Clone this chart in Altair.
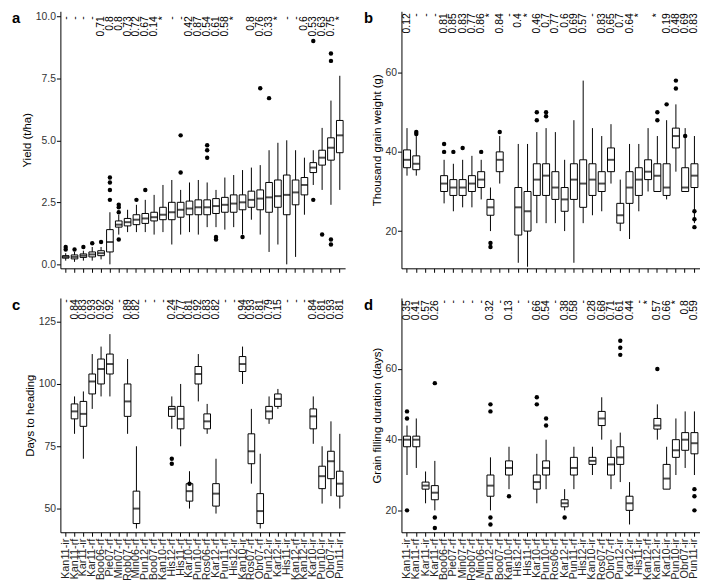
import altair as alt
import pandas as pd

ENVS = ["Kan11-ir","Kan11-rf","Kar11-ir","Kar11-rf","Boo06-rf","Pie07-rf","Min07-rf","Rob07-rf",
        "Min06-rf","Pun12-rf","Boo07-rf","Kan10-rf","His12-rf","His11-rf","Kar10-rf","Pun10-rf",
        "Ros06-rf","Kar12-rf","Pun11-rf","His12-ir","Kan10-ir","Ros07-rf","Obr07-rf","Pun12-ir",
        "Kar12-ir","His11-ir","Kan12-rf","Kan12-ir","Kar10-ir","Pun10-ir","Obr07-ir","Pun11-ir"]

# ---- panel a: yield (t/ha) ----
A_LO  = [0.15,0.1,0.15,0.15,0.2,0.0,1.2,1.3,1.3,1.3,1.2,1.3,0.8,1.2,1.3,1.2,1.5,1.5,1.4,1.5,1.2,1.8,1.2,0.5,0.8,0.0,0.3,2.0,3.2,3.0,2.4,3.0]
A_Q1  = [0.25,0.22,0.28,0.3,0.35,0.5,1.5,1.55,1.6,1.65,1.75,1.8,1.8,1.9,2.0,2.0,2.0,2.05,2.1,2.1,2.2,2.3,2.2,2.1,2.3,2.0,2.4,2.8,3.7,4.0,4.2,4.5]
A_MED = [0.3,0.3,0.35,0.4,0.45,0.9,1.6,1.7,1.8,1.85,1.9,2.0,2.1,2.2,2.25,2.3,2.3,2.35,2.4,2.45,2.5,2.6,2.65,2.7,2.75,2.8,2.9,3.2,3.9,4.3,4.7,5.2]
A_Q3  = [0.35,0.38,0.42,0.5,0.55,1.4,1.75,1.85,2.0,2.05,2.1,2.3,2.5,2.5,2.55,2.6,2.6,2.65,2.7,2.8,2.8,2.95,3.0,3.3,3.4,3.6,3.4,3.5,4.1,4.6,5.1,5.8]
A_HI  = [0.45,0.5,0.55,0.7,0.7,2.1,2.0,2.2,2.4,2.6,2.8,3.2,3.4,3.0,3.3,3.4,3.3,3.0,3.5,3.6,3.8,3.9,4.0,4.6,4.9,5.0,4.6,4.3,4.6,5.5,6.6,7.6]
A_OUT = [[0.6,0.7],[0.6],[0.7],[0.85],[0.9],[2.6,3.0,3.3,3.5],[2.1,2.3,2.4,1.0],[],[2.6],[3.0],[],[],[],[5.2,3.7],[],[],
         [4.3,4.6,4.8],[1.0,1.1],[],[],[1.1],[],[7.1],[6.7],[],[],[],[],[9.0,2.6],[1.2],[8.5,8.2,0.8,1.0],[]]
A_LAB = ["-","-","-","-","0.71","0.8","0.8","0.73","0.72","0.67","0.14","*","-","-","0.42","0.87",
         "0.54","0.61","0.58","*","","0.8","0.76","0.33","*","-","-","0.6","0.53","0.63","0.75","*"]

# ---- panel b: thousand grain weight (g) ----
B_LO  = [34,34,None,None,27,25,26,26,28,20,32,None,12,11,22,22,22,20,12,22,24,25,32,20,18,25,30,30,28,35,30,22]
B_Q1  = [36,35.5,None,None,30,29,29,30,31,24,35,None,19,20,29,29,28,25,28,26,29,30,35,22,27,29,33,30,29,41,30,31]
B_MED = [38,37,None,None,32,31,31,32,33,26,38,None,26,25,33,34,31,28,33,32,33,32,38,24,31,33,35,34,31,44,31,34]
B_Q3  = [40.5,39,None,None,34,33,33,34,35,28,40,None,31,30,37,37,35,31,37,38,37,35,41,27,35,36,38,37,37,46,36,37]
B_HI  = [46,44,None,None,38,37,38,39,38,31,44,None,42,42,45,46,45,38,48,58,46,44,47,33,42,42,46,44,48,52,46,44]
B_OUT = [[],[44.5,45],[],[],[40,42],[40],[41],[],[40],[16,17],[45],[],[],[],[48,50],[49,50],[],[],[],[],[],[],[],
         [],[],[],[],[48,50],[52],[56,58],[44],[21,23,25]]
B_LAB = ["0.12","-","-","-","0.81","0.85","0.83","0.77","0.86","*","0.84","-","0.4","*","0.46","0.7",
         "0.77","0.6","0.69","0.57","-","0.83","0.65","0.7","0.64","*","","*","0.19","0.48","0.69","0.83"]

# ---- panel c: days to heading ----
C_LO  = [None,80,70,90,95,95,None,80,42,None,None,None,82,75,50,93,80,48,None,None,100,60,42,84,90,None,None,None,76,52,55,50]
C_Q1  = [None,86,83,96,100,104,None,87,44,None,None,None,87,82,53,100,82,51,None,None,105,68,44,86,91,None,None,None,82,58,62,55]
C_MED = [None,89,88,101,106,108,None,93,50,None,None,None,90,86,57,104,85,56,None,None,108,73,49,89,94,None,None,None,87,63,69,60]
C_Q3  = [None,92,93,104,110,112,None,100,57,None,None,None,91,91,60,107,88,60,None,None,111,80,56,91,96,None,None,None,90,67,73,65]
C_HI  = [None,95,97,112,115,120,None,110,75,None,None,None,95,100,65,112,92,70,None,None,115,90,72,95,98,None,None,None,95,75,85,80]
C_OUT = [[],[],[],[],[],[],[],[],[],[],[],[],[70,68],[],[60],[],[],[],[],[],[],[],[],[],[],[],[],[],[],[],[],[]]
C_LAB = ["-","0.84","0.83","0.93","0.92","0.92","-","0.89","0.82","-","-","-","0.24","0.77","0.81","0.92",
         "0.83","0.82","-","-","0.94","0.93","0.81","0.79","0.15","-","-","-","0.84","0.81","0.93","0.81"]

# ---- panel d: grain filling duration (days) ----
D_LO  = [30,32,22,20,None,None,None,None,None,20,None,26,None,None,22,26,None,20,26,None,30,40,26,28,16,None,None,40,26,30,32,30]
D_Q1  = [38,38,26,23,None,None,None,None,None,24,None,30,None,None,26,30,None,21,30,None,33,44,30,33,20,None,None,43,26,35,37,36]
D_MED = [40,40,27,25,None,None,None,None,None,27,None,32,None,None,28,32,None,22,32,None,34,46,33,35,22,None,None,44,29,37,40,39]
D_Q3  = [41,41,28,27,None,None,None,None,None,30,None,34,None,None,30,34,None,23,35,None,35,48,35,38,24,None,None,46,33,40,42,42]
D_HI  = [44,46,31,34,None,None,None,None,None,35,None,38,None,None,36,40,None,26,38,None,38,52,40,42,28,None,None,50,38,46,48,48]
D_OUT = [[46,48,20],[],[],[15,18,56],[],[],[],[],[],[16,18,48,50],[],[24],[],[],[50,52],[44,46],[],[18],[],[],[],[],[],[64,66,68],[],[],[],[60],[],[],[],[20,24,26]]
D_LAB = ["0.35","0.41","0.57","0.26","-","-","-","-","-","0.32","-","0.13","-","-","0.66","0.54",
         "-","0.38","0.58","-","0.28","0.68","0.71","0.61","0.44","-","*","0.57","0.66","*","0.8","0.59"]


FONT = "Liberation Sans"


def panel(lo, q1, med, q3, hi, out, lab, domain, ticks, fmt, title, lab_y, xlabels, letter,
          letter_x, width, height):
    rows = [dict(env=e, lo=a, q1=b, med=c, q3=d, hi=f)
            for e, a, b, c, d, f in zip(ENVS, lo, q1, med, q3, hi) if c is not None]
    df = pd.DataFrame(rows)
    odf = pd.DataFrame([dict(env=e, v=v) for e, vs in zip(ENVS, out) for v in vs])
    ldf = pd.DataFrame(dict(env=ENVS, lab=lab, y=[lab_y] * len(ENVS)))

    xenc = alt.X("env:N", sort=ENVS, title=None,
                 scale=alt.Scale(domain=ENVS, paddingInner=0, paddingOuter=0.1),
                 axis=alt.Axis(labels=xlabels, labelAngle=270, labelFontSize=11,
                               labelColor="#222", tickSize=4, labelPadding=2))
    ysc = alt.Scale(domain=domain, nice=False, zero=False)
    yax = alt.Axis(values=ticks, format=fmt, title=title, labelFontSize=10.5, labelColor="#333",
                   titleFontSize=11.5, titleFontWeight="normal", titleColor="#000",
                   tickSize=4, labelPadding=1, titlePadding=3)

    whisk = alt.Chart(df).mark_rule(color="#000", strokeWidth=1).encode(
        x=xenc, y=alt.Y("lo:Q", scale=ysc, axis=yax), y2="hi:Q")
    box = alt.Chart(df).mark_bar(width=alt.RelativeBandSize(0.75), fill="white",
                                 stroke="#000", strokeWidth=1).encode(
        x=alt.X("env:N", sort=ENVS), y="q1:Q", y2="q3:Q")
    medt = alt.Chart(df).mark_tick(color="#000", thickness=2, size=6.7).encode(
        x=alt.X("env:N", sort=ENVS), y="med:Q")
    pts = alt.Chart(odf).mark_circle(color="#000", opacity=1, size=20).encode(
        x=alt.X("env:N", sort=ENVS), y="v:Q")
    txt = alt.Chart(ldf).mark_text(angle=270, align="right", baseline="middle",
                                   fontSize=10.5, font=FONT, color="#000").encode(
        x=alt.X("env:N", sort=ENVS), y="y:Q", text="lab:N")
    let = alt.Chart(pd.DataFrame(dict(t=[letter]))).mark_text(
        align="left", baseline="top", fontSize=15, fontWeight="bold", font=FONT, color="#000").encode(
        x=alt.value(letter_x), y=alt.value(0), text="t:N")
    return alt.layer(whisk, box, medt, pts, txt, let).properties(width=width, height=height)


pa = panel(A_LO, A_Q1, A_MED, A_Q3, A_HI, A_OUT, A_LAB, [-0.16, 10.2], [0, 2.5, 5, 7.5, 10], ".1f",
           "Yield (t/ha)", 10.0, False, "a", -49, 288, 260)
pb = panel(B_LO, B_Q1, B_MED, B_Q3, B_HI, B_OUT, B_LAB, [10.6, 75.5], [20, 40, 60], "d",
           "Thousand grain weight (g)", 75, False, "b", -38, 302, 260)
pc = panel(C_LO, C_Q1, C_MED, C_Q3, C_HI, C_OUT, C_LAB, [40.5, 134.5], [50, 75, 100, 125], "d",
           "Days to heading", 134, True, "c", -49, 288, 237)
pd_ = panel(D_LO, D_Q1, D_MED, D_Q3, D_HI, D_OUT, D_LAB, [13.8, 80.1], [20, 40, 60], "d",
            "Grain filling duration (days)", 79.5, True, "d", -38, 302, 237)

chart = alt.concat(pa, pb, pc, pd_, columns=2, spacing={"row": 25, "column": 18}).properties(
    padding={"left": 4, "top": 0, "right": 0, "bottom": 0}
).configure_view(stroke=None).configure_axis(
    grid=False, domainColor="#000", tickColor="#000", labelFont=FONT, titleFont=FONT,
    domainWidth=1, tickWidth=1
)

chart.save("out.html", embed_options={"renderer": "svg", "actions": False})
